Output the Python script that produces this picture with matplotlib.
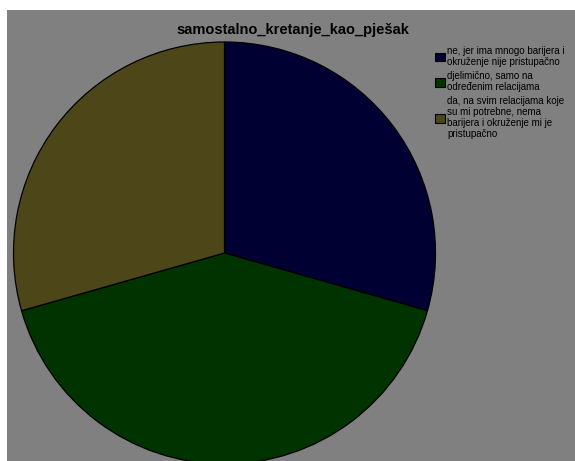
import matplotlib.pyplot as plt
from matplotlib.patches import Rectangle

plt.rcParams['font.family'] = ['Liberation Sans', 'DejaVu Sans']

title = "samostalno_kretanje_kao_pješak"
labels = [
    "ne, jer ima mnogo barijera i\nokruženje nije pristupačno",
    "djelimično, samo na\nodređenim relacijama",
    "da, na svim relacijama koje\nsu mi potrebne, nema\nbarijera i okruženje mi je\npristupačno",
]
counts = [5, 7, 5]
colors = ['#000033', '#003300', '#4c4619']

fig = plt.figure(figsize=(5.75, 4.61), dpi=100, facecolor='white')
W, H = 575, 461

# gray background panel (white strip on top and left)
fig.add_artist(Rectangle((7 / W, 0), 1, 451 / H, transform=fig.transFigure,
                         facecolor='#808080', edgecolor='none', zorder=0))

# pie centre (224.5, 253) px from top-left, radius 211 px
r = 211
cx, cy = 224.5, H - 253
ax = fig.add_axes([(cx - r) / W, (cy - r) / H, 2 * r / W, 2 * r / H])
ax.set_facecolor('none')
ax.set_zorder(1)

wedges, _ = ax.pie(counts, colors=colors, startangle=90, counterclock=False,
                   radius=1, wedgeprops=dict(edgecolor='black', linewidth=0.9))
ax.set_xlim(-1, 1)
ax.set_ylim(-1, 1)
ax.set_aspect('equal')
ax.axis('off')

fig.text(293 / W, 1 - 30 / H, title, ha='center', va='center',
         fontsize=10.5, fontweight='bold', color='black', zorder=2)

leg = fig.legend(wedges, labels, loc='upper left',
                 bbox_to_anchor=(435 / W, 1 - 46 / H),
                 frameon=False, borderpad=0, borderaxespad=0,
                 handlelength=1.0, handleheight=1.0, handletextpad=0.25,
                 labelspacing=0.45, prop={'size': 7.0})
for t in leg.get_texts():
    t.set_linespacing(1.1)
for h in leg.legend_handles:
    h.set_edgecolor('black')
    h.set_linewidth(0.8)

fig.savefig('out.png', dpi=100, facecolor='white')
